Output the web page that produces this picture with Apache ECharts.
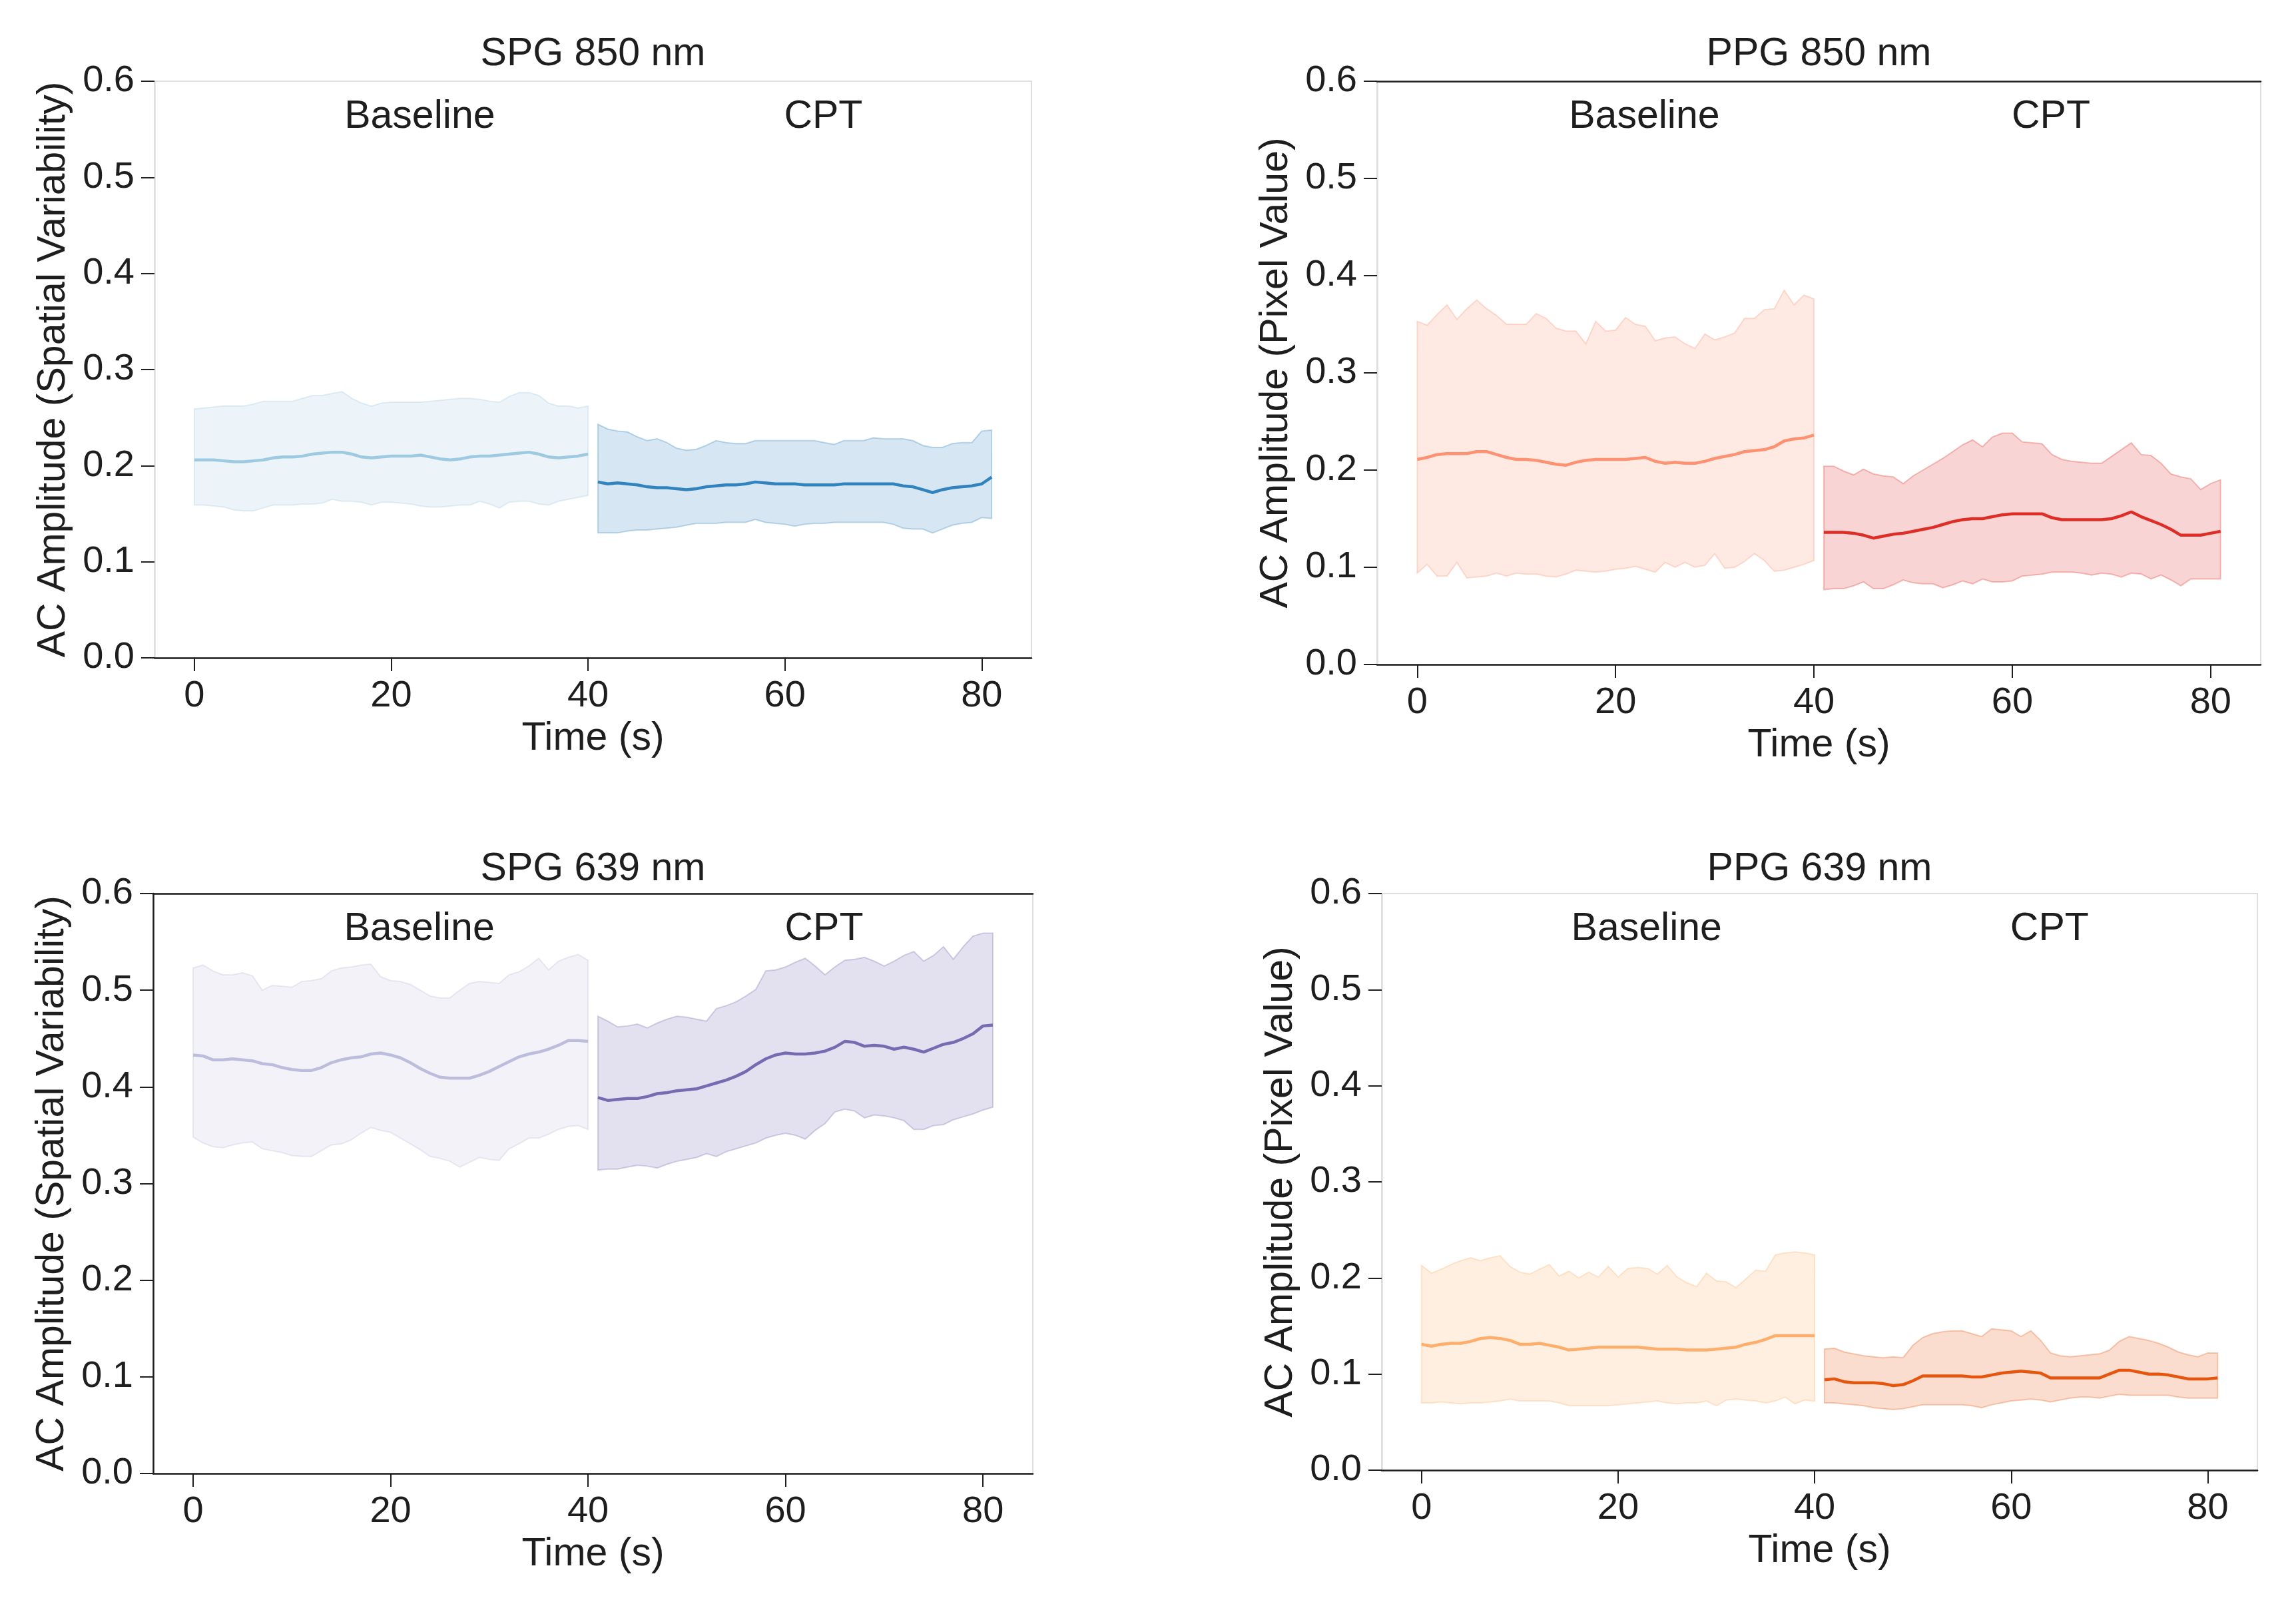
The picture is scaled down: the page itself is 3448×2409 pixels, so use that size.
<!DOCTYPE html>
<html><head><meta charset="utf-8">
<script src="https://cdn.jsdelivr.net/npm/echarts@6/dist/echarts.min.js"></script>
<style>html,body{margin:0;padding:0;background:#fff}#c{width:3448px;height:2409px}</style>
</head><body><div id="c"></div>
<script>
// ---------------- DATA ----------------
const TIME_BASELINE = [0,1,2,3,4,5,6,7,8,9,10,11,12,13,14,15,16,17,18,19,20,21,22,23,24,25,26,27,28,29,30,31,32,33,34,35,36,37,38,39,40];
const TIME_CPT = [41,42,43,44,45,46,47,48,49,50,51,52,53,54,55,56,57,58,59,60,61,62,63,64,65,66,67,68,69,70,71,72,73,74,75,76,77,78,79,80,81];
const X_TICKS = [0,20,40,60,80];
const PANEL_TITLES = ['SPG 850 nm','PPG 850 nm','SPG 639 nm','PPG 639 nm'];
const Y_NAMES = ['AC Amplitude (Spatial Variability)','AC Amplitude (Pixel Value)','AC Amplitude (Spatial Variability)','AC Amplitude (Pixel Value)'];
const X_NAME = 'Time (s)';
const PHASE_LABELS = ['Baseline','CPT'];
const PHASE_LABEL_POS = [[22.9,0.563],[63.9,0.563]];

// SPG 850 nm
const SPG850_BASE_MEAN = [0.206,0.206,0.206,0.205,0.204,0.204,0.205,0.206,0.208,0.209, 0.209,0.210,0.212,0.213,0.214,0.214,0.212,0.209,0.208,0.209, 0.210,0.210,0.210,0.211,0.209,0.207,0.206,0.207,0.209,0.210, 0.210,0.211,0.212,0.213,0.214,0.212,0.209,0.208,0.209,0.210, 0.212];
const SPG850_BASE_UP = [0.259,0.260,0.261,0.262,0.262,0.262,0.264,0.267,0.267,0.267, 0.267,0.270,0.273,0.273,0.275,0.277,0.270,0.265,0.262,0.265, 0.266,0.266,0.266,0.266,0.267,0.268,0.269,0.270,0.270,0.269, 0.267,0.266,0.272,0.276,0.276,0.273,0.265,0.262,0.262,0.260, 0.262];
const SPG850_BASE_LO = [0.159,0.159,0.158,0.157,0.154,0.153,0.153,0.156,0.159,0.159, 0.159,0.160,0.160,0.161,0.165,0.163,0.163,0.162,0.159,0.162, 0.162,0.161,0.160,0.158,0.157,0.157,0.158,0.159,0.159,0.163, 0.160,0.156,0.162,0.163,0.163,0.160,0.159,0.163,0.165,0.167, 0.169];
const SPG850_CPT_MEAN = [0.183,0.181,0.182,0.181,0.180,0.178,0.177,0.177,0.176,0.175, 0.176,0.178,0.179,0.180,0.180,0.181,0.183,0.182,0.181,0.181, 0.181,0.180,0.180,0.180,0.180,0.181,0.181,0.181,0.181,0.181, 0.181,0.179,0.178,0.175,0.172,0.175,0.177,0.178,0.179,0.181, 0.188];
const SPG850_CPT_UP = [0.243,0.238,0.236,0.235,0.230,0.226,0.228,0.224,0.218,0.216, 0.217,0.221,0.226,0.224,0.223,0.223,0.226,0.226,0.226,0.226, 0.226,0.226,0.226,0.224,0.222,0.226,0.226,0.226,0.229,0.228, 0.228,0.228,0.226,0.221,0.219,0.219,0.223,0.224,0.224,0.236, 0.237];
const SPG850_CPT_LO = [0.130,0.130,0.130,0.132,0.133,0.133,0.134,0.135,0.136,0.138, 0.140,0.140,0.140,0.141,0.141,0.141,0.144,0.141,0.140,0.139, 0.137,0.139,0.140,0.140,0.141,0.141,0.141,0.141,0.141,0.141, 0.139,0.135,0.134,0.134,0.130,0.134,0.138,0.140,0.141,0.146, 0.145];

// PPG 850 nm
const PPG850_BASE_MEAN = [0.211,0.213,0.216,0.217,0.217,0.217,0.219,0.219,0.216,0.213, 0.211,0.211,0.210,0.208,0.206,0.205,0.208,0.210,0.211,0.211, 0.211,0.211,0.212,0.213,0.209,0.207,0.208,0.207,0.207,0.209, 0.212,0.214,0.216,0.219,0.220,0.221,0.224,0.230,0.232,0.233, 0.236];
const PPG850_BASE_UP = [0.353,0.349,0.360,0.370,0.355,0.366,0.375,0.366,0.359,0.350, 0.350,0.350,0.361,0.356,0.346,0.343,0.343,0.330,0.353,0.343, 0.344,0.357,0.350,0.348,0.333,0.336,0.337,0.330,0.325,0.340, 0.334,0.337,0.341,0.356,0.356,0.365,0.366,0.385,0.370,0.380, 0.376];
const PPG850_BASE_LO = [0.094,0.103,0.091,0.091,0.105,0.089,0.090,0.091,0.094,0.091, 0.094,0.093,0.093,0.091,0.090,0.093,0.097,0.096,0.095,0.096, 0.098,0.099,0.101,0.098,0.095,0.105,0.100,0.105,0.100,0.102, 0.114,0.099,0.100,0.106,0.114,0.107,0.096,0.097,0.100,0.103, 0.107];
const PPG850_CPT_MEAN = [0.136,0.136,0.136,0.135,0.133,0.130,0.132,0.134,0.135,0.137, 0.139,0.141,0.144,0.147,0.149,0.150,0.150,0.152,0.154,0.155, 0.155,0.155,0.155,0.151,0.149,0.149,0.149,0.149,0.149,0.150, 0.153,0.157,0.152,0.148,0.144,0.139,0.133,0.133,0.133,0.135, 0.137];
const PPG850_CPT_UP = [0.204,0.204,0.199,0.195,0.201,0.196,0.194,0.193,0.186,0.194, 0.200,0.206,0.212,0.219,0.226,0.231,0.224,0.234,0.238,0.238, 0.229,0.228,0.227,0.216,0.211,0.209,0.208,0.207,0.207,0.214, 0.221,0.228,0.216,0.215,0.207,0.196,0.193,0.191,0.180,0.186, 0.190];
const PPG850_CPT_LO = [0.077,0.078,0.078,0.081,0.085,0.078,0.078,0.082,0.087,0.084, 0.083,0.083,0.079,0.082,0.086,0.083,0.088,0.085,0.085,0.086, 0.091,0.092,0.093,0.095,0.095,0.095,0.094,0.092,0.094,0.093, 0.090,0.094,0.093,0.088,0.092,0.087,0.081,0.088,0.088,0.088, 0.088];

// SPG 639 nm
const SPG639_BASE_MEAN = [0.433,0.432,0.428,0.428,0.429,0.428,0.427,0.424,0.423,0.420, 0.418,0.417,0.417,0.420,0.425,0.428,0.430,0.431,0.434,0.435, 0.433,0.430,0.425,0.419,0.414,0.410,0.409,0.409,0.409,0.412, 0.416,0.421,0.426,0.431,0.434,0.436,0.439,0.443,0.448,0.448, 0.447];
const SPG639_BASE_UP = [0.523,0.526,0.520,0.516,0.516,0.518,0.515,0.500,0.505,0.504, 0.503,0.509,0.510,0.512,0.520,0.523,0.524,0.526,0.527,0.514, 0.510,0.509,0.506,0.500,0.494,0.492,0.492,0.500,0.507,0.509, 0.508,0.507,0.516,0.519,0.525,0.533,0.521,0.530,0.534,0.537, 0.531];
const SPG639_BASE_LO = [0.348,0.342,0.338,0.337,0.340,0.342,0.343,0.336,0.334,0.332, 0.329,0.328,0.328,0.334,0.340,0.341,0.345,0.352,0.358,0.355, 0.353,0.347,0.341,0.335,0.328,0.326,0.323,0.317,0.322,0.327, 0.325,0.324,0.336,0.341,0.347,0.347,0.351,0.356,0.359,0.360, 0.356];
const SPG639_CPT_MEAN = [0.389,0.386,0.387,0.388,0.388,0.390,0.393,0.394,0.396,0.397, 0.398,0.401,0.404,0.407,0.411,0.416,0.423,0.429,0.433,0.435, 0.434,0.434,0.435,0.437,0.441,0.447,0.446,0.442,0.443,0.442, 0.439,0.441,0.439,0.436,0.440,0.444,0.446,0.450,0.455,0.463, 0.464];
const SPG639_CPT_UP = [0.473,0.468,0.462,0.463,0.465,0.461,0.466,0.470,0.473,0.472, 0.470,0.468,0.481,0.484,0.488,0.494,0.501,0.520,0.521,0.524, 0.529,0.533,0.525,0.516,0.524,0.531,0.532,0.534,0.530,0.525, 0.530,0.536,0.540,0.530,0.536,0.545,0.532,0.545,0.556,0.559, 0.559];
const SPG639_CPT_LO = [0.314,0.315,0.315,0.317,0.319,0.318,0.316,0.320,0.323,0.325, 0.327,0.331,0.328,0.333,0.336,0.339,0.342,0.347,0.350,0.352, 0.350,0.346,0.355,0.362,0.374,0.377,0.375,0.368,0.371,0.370, 0.368,0.365,0.356,0.356,0.360,0.361,0.366,0.369,0.372,0.376, 0.379];

// PPG 639 nm
const PPG639_BASE_MEAN = [0.131,0.129,0.131,0.132,0.132,0.134,0.137,0.138,0.137,0.135, 0.131,0.131,0.132,0.130,0.128,0.125,0.126,0.127,0.128,0.128, 0.128,0.128,0.128,0.127,0.126,0.126,0.126,0.125,0.125,0.125, 0.126,0.127,0.128,0.131,0.133,0.136,0.140,0.140,0.140,0.140, 0.140];
const PPG639_BASE_UP = [0.213,0.205,0.209,0.214,0.218,0.221,0.218,0.221,0.223,0.212, 0.206,0.204,0.209,0.214,0.202,0.207,0.200,0.206,0.201,0.212, 0.201,0.210,0.211,0.210,0.204,0.213,0.201,0.195,0.191,0.205, 0.197,0.196,0.190,0.199,0.208,0.207,0.224,0.226,0.227,0.226, 0.224];
const PPG639_BASE_LO = [0.070,0.070,0.071,0.070,0.069,0.070,0.070,0.071,0.072,0.074, 0.072,0.072,0.072,0.072,0.070,0.067,0.067,0.067,0.067,0.067, 0.068,0.069,0.070,0.071,0.072,0.070,0.069,0.070,0.070,0.072, 0.067,0.073,0.074,0.073,0.072,0.070,0.072,0.076,0.069,0.073, 0.072];
const PPG639_CPT_MEAN = [0.094,0.095,0.092,0.091,0.091,0.091,0.090,0.088,0.089,0.093, 0.098,0.098,0.098,0.098,0.098,0.097,0.097,0.099,0.101,0.102, 0.103,0.102,0.101,0.096,0.096,0.096,0.096,0.096,0.096,0.100, 0.104,0.104,0.102,0.100,0.100,0.099,0.097,0.095,0.095,0.095, 0.096];
const PPG639_CPT_UP = [0.126,0.127,0.123,0.121,0.119,0.118,0.117,0.118,0.117,0.130, 0.138,0.142,0.144,0.145,0.145,0.142,0.139,0.147,0.146,0.145, 0.139,0.145,0.135,0.122,0.119,0.118,0.119,0.120,0.121,0.125, 0.134,0.139,0.137,0.135,0.132,0.128,0.123,0.120,0.118,0.122, 0.122];
const PPG639_CPT_LO = [0.070,0.070,0.069,0.068,0.067,0.065,0.064,0.063,0.064,0.066, 0.068,0.068,0.068,0.068,0.068,0.067,0.065,0.068,0.070,0.072, 0.073,0.074,0.073,0.071,0.073,0.075,0.076,0.076,0.075,0.077, 0.079,0.078,0.078,0.078,0.078,0.078,0.076,0.075,0.075,0.075, 0.075];

// ---------------- STYLE / LAYOUT ----------------
const FONT = '"Liberation Sans", Arial, sans-serif';
const INK = '#1e1e1e';
const LIGHT = '#dedede';
const panels = [
  {grid:{left:232,top:122,width:1317,height:866}, leftLine:LIGHT, topDark:false, titleY:82,
   segs:[{t:TIME_BASELINE,m:SPG850_BASE_MEAN,u:SPG850_BASE_UP,l:SPG850_BASE_LO,c:'#9ecae1'},
         {t:TIME_CPT,m:SPG850_CPT_MEAN,u:SPG850_CPT_UP,l:SPG850_CPT_LO,c:'#3182bd'}]},
  {grid:{left:2068,top:122,width:1327,height:876}, leftLine:LIGHT, topDark:true, titleY:82,
   segs:[{t:TIME_BASELINE,m:PPG850_BASE_MEAN,u:PPG850_BASE_UP,l:PPG850_BASE_LO,c:'#fc9272'},
         {t:TIME_CPT,m:PPG850_CPT_MEAN,u:PPG850_CPT_UP,l:PPG850_CPT_LO,c:'#de2d26'}]},
  {grid:{left:230,top:1342,width:1321,height:871}, leftLine:INK, topDark:true, titleY:1306,
   segs:[{t:TIME_BASELINE,m:SPG639_BASE_MEAN,u:SPG639_BASE_UP,l:SPG639_BASE_LO,c:'#bcbddc'},
         {t:TIME_CPT,m:SPG639_CPT_MEAN,u:SPG639_CPT_UP,l:SPG639_CPT_LO,c:'#756bb1'}]},
  {grid:{left:2075,top:1342,width:1315,height:866}, leftLine:LIGHT, topDark:false, titleY:1306,
   segs:[{t:TIME_BASELINE,m:PPG639_BASE_MEAN,u:PPG639_BASE_UP,l:PPG639_BASE_LO,c:'#fdae6b'},
         {t:TIME_CPT,m:PPG639_CPT_MEAN,u:PPG639_CPT_UP,l:PPG639_CPT_LO,c:'#e6550d'}]}
];

function rgba(hex, a){
  const n = parseInt(hex.slice(1),16);
  return 'rgba('+((n>>16)&255)+','+((n>>8)&255)+','+(n&255)+','+a+')';
}

const grids=[], xAxes=[], yAxes=[], series=[], graphics=[];
panels.forEach((p,i)=>{
  grids.push(Object.assign({show:true, borderColor:LIGHT, borderWidth:2, backgroundColor:'transparent'}, p.grid));
  xAxes.push({
    gridIndex:i, type:'value', min:-4.05, max:85.05,
    axisLine:{show:true, onZero:false, lineStyle:{color:INK, width:2.5}},
    axisTick:{show:true, length:20, customValues:X_TICKS, lineStyle:{color:INK, width:2}},
    axisLabel:{show:true, customValues:X_TICKS, fontSize:56, margin:30, color:INK, fontFamily:FONT},
    splitLine:{show:false},
    name:X_NAME, nameLocation:'middle', nameGap:92,
    nameTextStyle:{fontSize:59, color:INK, fontFamily:FONT}
  });
  yAxes.push({
    gridIndex:i, type:'value', min:0, max:0.6, interval:0.1,
    axisLine:{show:true, onZero:false, lineStyle:{color:p.leftLine, width:2.5}},
    axisTick:{show:true, length:20, lineStyle:{color:INK, width:2}},
    axisLabel:{show:true, fontSize:56, margin:30, color:INK, fontFamily:FONT, formatter:v=>v.toFixed(1)},
    splitLine:{show:false},
    name:Y_NAMES[i], nameLocation:'middle', nameGap:122, nameRotate:90,
    nameTextStyle:{fontSize:59, color:INK, fontFamily:FONT}
  });
  p.segs.forEach(s=>{
    const band = s.t.map((t,k)=>[t, s.l[k], s.u[k]]);
    series.push({
      type:'custom', xAxisIndex:i, yAxisIndex:i, silent:true, z:1,
      encode:{x:0, y:[1,2]},
      data: band,
      renderItem:(params, api)=>{
        if (params.dataIndex !== 0) return null;
        const pts=[];
        for (let k=0;k<band.length;k++) pts.push(api.coord([band[k][0], band[k][2]]));
        for (let k=band.length-1;k>=0;k--) pts.push(api.coord([band[k][0], band[k][1]]));
        return {type:'polygon', shape:{points:pts},
          style:{fill:rgba(s.c,0.2), stroke:rgba(s.c,0.3), lineWidth:2}};
      }
    });
    series.push({
      type:'line', xAxisIndex:i, yAxisIndex:i, silent:true, z:3,
      symbol:'none', smooth:false,
      data: s.t.map((t,k)=>[t, s.m[k]]),
      lineStyle:{color:s.c, width:4.5}
    });
  });
  graphics.push({type:'text', x:p.grid.left + p.grid.width/2, y:p.titleY,
    style:{text:PANEL_TITLES[i], fontSize:59, fill:INK, fontFamily:FONT, textAlign:'center', textVerticalAlign:'middle'}});
});
// dark top spines where present
panels.forEach((p,i)=>{
  if (p.topDark) {
    xAxes.push({gridIndex:i, type:'value', position:'top', min:-4.05, max:85.05,
      axisLine:{show:true, onZero:false, lineStyle:{color:INK, width:2.5}},
      axisTick:{show:false}, axisLabel:{show:false}, splitLine:{show:false}});
  }
});

const chart = echarts.init(document.getElementById('c'), null, {renderer:'canvas'});
chart.setOption({
  backgroundColor:'#ffffff', animation:false,
  grid:grids, xAxis:xAxes, yAxis:yAxes, series:series, graphic:graphics
});
// phase labels placed at data coordinates via the library's scales
const phaseGraphics = graphics.slice();
panels.forEach((p,i)=>{
  PHASE_LABEL_POS.forEach((pos,k)=>{
    const px = chart.convertToPixel({gridIndex:i}, pos);
    phaseGraphics.push({type:'text', x:px[0], y:px[1],
      style:{text:PHASE_LABELS[k], fontSize:59, fill:INK, fontFamily:FONT, textAlign:'center', textVerticalAlign:'middle'}});
  });
});
chart.setOption({graphic:phaseGraphics});
</script></body></html>
